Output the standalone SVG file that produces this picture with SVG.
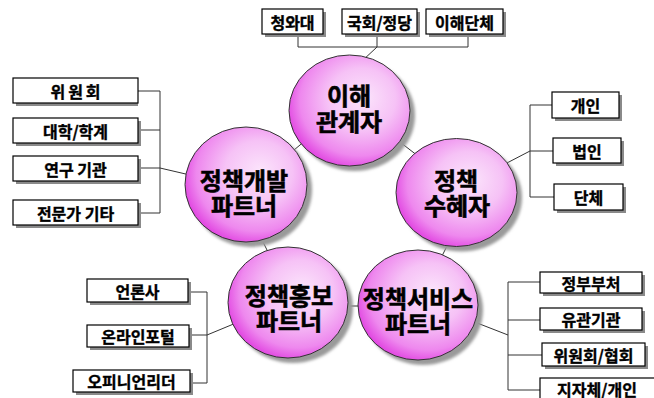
<svg xmlns="http://www.w3.org/2000/svg" width="654" height="398" viewBox="0 0 654 398">
<defs>
<radialGradient id="pink" cx="0.58" cy="0.42" r="0.62" fx="0.62" fy="0.38">
<stop offset="0" stop-color="#fbe4fb"/>
<stop offset="0.45" stop-color="#f6c2f6"/>
<stop offset="0.8" stop-color="#ee88ee"/>
<stop offset="1" stop-color="#e040e0"/>
</radialGradient>
<filter id="blur" x="-20%" y="-20%" width="140%" height="140%">
<feGaussianBlur stdDeviation="1.8"/>
</filter>
<style>
.ln{stroke:#333;stroke-width:1;fill:none}
.bx{fill:#fff;stroke:#000;stroke-width:1.2}
.bs{fill:#8a8a8a}
.cs{fill:#9a9a9a;filter:url(#blur)}
.cc{fill:url(#pink);stroke:#333;stroke-width:1}
.bt{font-family:"Noto Sans CJK KR","Noto Sans",sans-serif;font-weight:700;font-size:16px;fill:#000;stroke:#000;stroke-width:0.35;text-anchor:middle;dominant-baseline:central}
.ct{font-family:"Noto Sans CJK KR","Noto Sans",sans-serif;font-weight:700;font-size:24px;fill:#000;stroke:#000;stroke-width:0.6;text-anchor:middle;dominant-baseline:central}
</style>
</defs>
<rect width="654" height="398" fill="#fff"/>
<g id="connectors">
<polyline class="ln" points="298,34 298,47 468,47 468,34"/>
<line class="ln" x1="377" y1="34" x2="377" y2="47"/>
<line class="ln" x1="377" y1="47" x2="362" y2="61"/>
<polyline class="ln" points="138,91 160,91 160,213 138,213"/>
<line class="ln" x1="138" y1="130" x2="160" y2="130"/>
<line class="ln" x1="138" y1="168" x2="160" y2="168"/>
<line class="ln" x1="160" y1="168" x2="190" y2="175"/>
<polyline class="ln" points="552,105 530,105 530,197 554,197"/>
<line class="ln" x1="530" y1="151" x2="553" y2="151"/>
<line class="ln" x1="530" y1="151" x2="505" y2="164"/>
<polyline class="ln" points="188,292 207,292 207,383 190,383"/>
<line class="ln" x1="189" y1="335" x2="207" y2="335"/>
<line class="ln" x1="207" y1="335" x2="236" y2="323"/>
<polyline class="ln" points="540,282 508,282 508,390 540,390"/>
<line class="ln" x1="508" y1="320" x2="540" y2="320"/>
<line class="ln" x1="508" y1="355" x2="542" y2="355"/>
<line class="ln" x1="508" y1="335" x2="472" y2="321"/>
<line class="ln" x1="306" y1="140" x2="288" y2="155"/>
<line class="ln" x1="396" y1="139" x2="418" y2="156"/>
<line class="ln" x1="259" y1="234" x2="269" y2="254"/>
<line class="ln" x1="452" y1="236" x2="440" y2="260"/>
<line class="ln" x1="344" y1="306" x2="364" y2="306"/>
</g>
<g id="node-stakeholder">
<ellipse class="cs" cx="354.5" cy="115.5" rx="60.5" ry="55.5"/>
<ellipse class="cc" cx="349.5" cy="110.5" rx="60.5" ry="55.5"/>
<text class="ct" x="349" y="94">이해</text>
<text class="ct" x="349" y="120">관계자</text>
</g>
<g id="node-beneficiary">
<ellipse class="cs" cx="461.5" cy="197.5" rx="60.5" ry="54"/>
<ellipse class="cc" cx="456.5" cy="192.5" rx="60.5" ry="54"/>
<text class="ct" x="456" y="179">정책</text>
<text class="ct" x="457" y="204">수혜자</text>
</g>
<g id="node-dev">
<ellipse class="cs" cx="251" cy="189.5" rx="61" ry="57.5"/>
<ellipse class="cc" cx="246" cy="184.5" rx="61" ry="57.5"/>
<text class="ct" x="244" y="179">정책개발</text>
<text class="ct" x="244" y="204">파트너</text>
</g>
<g id="node-pr">
<ellipse class="cs" cx="293" cy="307.5" rx="60" ry="55.5"/>
<ellipse class="cc" cx="288" cy="302.5" rx="60" ry="55.5"/>
<text class="ct" x="289" y="294">정책홍보</text>
<text class="ct" x="289" y="319">파트너</text>
</g>
<g id="node-service">
<ellipse class="cs" cx="423" cy="310" rx="60" ry="55"/>
<ellipse class="cc" cx="418" cy="305" rx="60" ry="55"/>
<text class="ct" x="418" y="297">정책서비스</text>
<text class="ct" x="418" y="322">파트너</text>
</g>
<g id="box-cheongwadae"><rect class="bs" x="265" y="12" width="61" height="25"/><rect class="bx" x="262" y="9" width="61" height="25"/><text class="bt" x="292.5" y="21.5">청와대</text></g>
<g id="box-assembly"><rect class="bs" x="345" y="12" width="75" height="25"/><rect class="bx" x="342" y="9" width="75" height="25"/><text class="bt" x="379.5" y="21.5">국회/정당</text></g>
<g id="box-interest"><rect class="bs" x="429" y="12" width="77" height="25"/><rect class="bx" x="426" y="9" width="77" height="25"/><text class="bt" x="464.5" y="21.5">이해단체</text></g>
<g id="box-committee"><rect class="bs" x="16" y="81" width="122" height="25"/><rect class="bx" x="13" y="78" width="125" height="25"/><text class="bt" x="77" y="90.5" letter-spacing="3">위원회</text></g>
<g id="box-academia"><rect class="bs" x="16" y="121" width="125" height="25"/><rect class="bx" x="13" y="118" width="125" height="25"/><text class="bt" x="75.5" y="130.5">대학/학계</text></g>
<g id="box-research"><rect class="bs" x="16" y="159" width="125" height="25"/><rect class="bx" x="13" y="156" width="125" height="25"/><text class="bt" x="75.5" y="168.5">연구 기관</text></g>
<g id="box-expert"><rect class="bs" x="16" y="203" width="125" height="25"/><rect class="bx" x="13" y="200" width="125" height="25"/><text class="bt" x="75.5" y="212.5">전문가 기타</text></g>
<g id="box-individual"><rect class="bs" x="555" y="95" width="67" height="26"/><rect class="bx" x="552" y="92" width="67" height="26"/><text class="bt" x="585.5" y="105">개인</text></g>
<g id="box-corp"><rect class="bs" x="556" y="141" width="68" height="25"/><rect class="bx" x="553" y="138" width="68" height="25"/><text class="bt" x="587" y="150.5">법인</text></g>
<g id="box-group"><rect class="bs" x="557" y="187" width="69" height="26"/><rect class="bx" x="554" y="184" width="69" height="26"/><text class="bt" x="588.5" y="197">단체</text></g>
<g id="box-press"><rect class="bs" x="90" y="282" width="101" height="23"/><rect class="bx" x="87" y="279" width="101" height="23"/><text class="bt" x="137.5" y="290.5">언론사</text></g>
<g id="box-portal"><rect class="bs" x="90" y="328" width="102" height="22"/><rect class="bx" x="87" y="325" width="102" height="22"/><text class="bt" x="138" y="336">온라인포털</text></g>
<g id="box-opinion"><rect class="bs" x="76" y="373" width="117" height="22"/><rect class="bx" x="73" y="370" width="117" height="22"/><text class="bt" x="131.5" y="381">오피니언리더</text></g>
<g id="box-ministry"><rect class="bs" x="543" y="275" width="102" height="21"/><rect class="bx" x="540" y="272" width="102" height="21"/><text class="bt" x="591" y="282.5">정부부처</text></g>
<g id="box-agency"><rect class="bs" x="543" y="311" width="102" height="22"/><rect class="bx" x="540" y="308" width="102" height="22"/><text class="bt" x="591" y="319">유관기관</text></g>
<g id="box-association"><rect class="bs" x="545" y="346" width="103" height="23"/><rect class="bx" x="542" y="343" width="103" height="23"/><text class="bt" x="593.5" y="354.5">위원회/협회</text></g>
<g id="box-local"><rect class="bs" x="543" y="381" width="116" height="24"/><rect class="bx" x="540" y="378" width="116" height="24"/><text class="bt" x="597" y="389">지자체/개인</text></g>
</svg>
